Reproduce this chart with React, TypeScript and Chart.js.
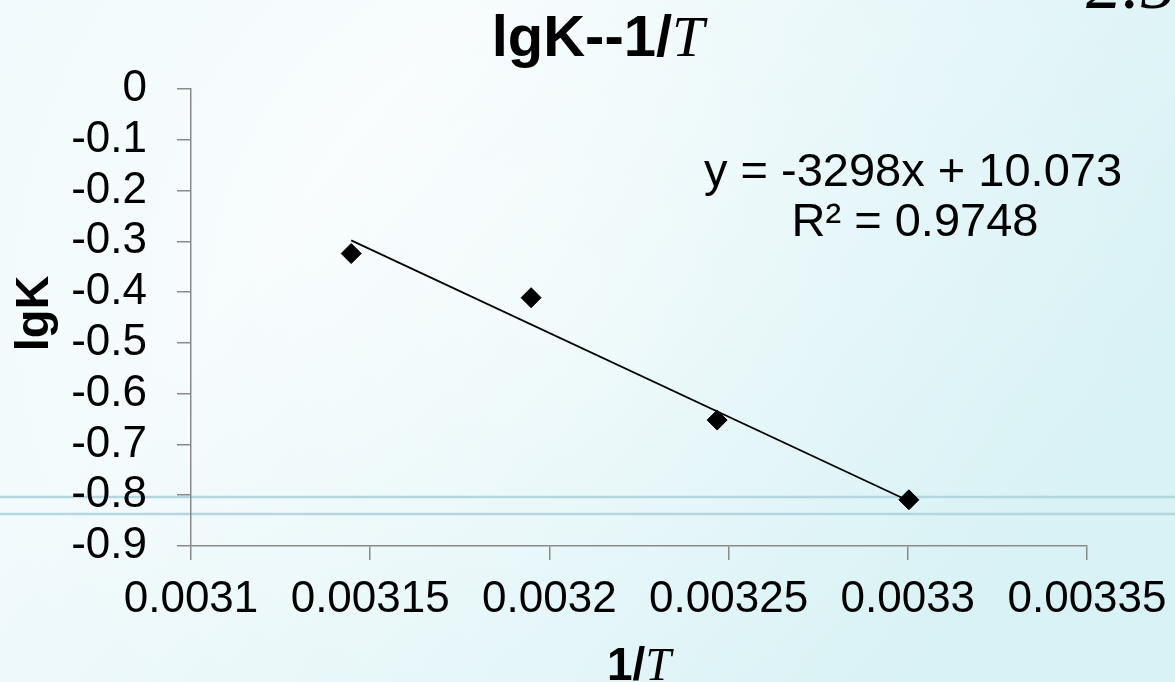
import React, { useEffect, useRef } from 'react';
import { Chart, registerables } from 'chart.js';

Chart.register(...registerables);

// ---- data ----
const invT = [0.0031447, 0.0031949, 0.0032468, 0.0033003];
const lgK = [-0.324, -0.411, -0.652, -0.809];
const trendX = [0.0031447, 0.0033003];
const trendY = [-0.2982, -0.8114];
const xTickValues = [0.0031, 0.00315, 0.0032, 0.00325, 0.0033, 0.00335];
const xTickLabels = ['0.0031', '0.00315', '0.0032', '0.00325', '0.0033', '0.00335'];
const yTickValues = [-0.9, -0.8, -0.7, -0.6, -0.5, -0.4, -0.3, -0.2, -0.1, 0];
const yTickLabels = ['-0.9', '-0.8', '-0.7', '-0.6', '-0.5', '-0.4', '-0.3', '-0.2', '-0.1', '0'];
const titleMain = 'lgK--1/';
const titleItalic = 'T';
const xTitleMain = '1/';
const xTitleItalic = 'T';
const yTitle = 'lgK';
const equationText = 'y = -3298x + 10.073';
const r2Text = 'R² = 0.9748';
const cornerText = '2.5';

const SANS = '"Liberation Sans", Arial, sans-serif';
const SERIF = '"Liberation Serif", "Times New Roman", serif';

const W = 1175;
const H = 682;

const backgroundPlugin = {
  id: 'slideBackground',
  beforeDraw(chart: any) {
    const ctx = chart.ctx as CanvasRenderingContext2D;
    ctx.save();
    ctx.fillStyle = '#f1fafc';
    ctx.fillRect(0, 0, W, H);
    const rg = ctx.createRadialGradient(560, 300, 40, 560, 300, 620);
    rg.addColorStop(0, 'rgba(255,255,255,0.85)');
    rg.addColorStop(1, 'rgba(255,255,255,0)');
    ctx.fillStyle = rg;
    ctx.fillRect(0, 0, W, H);
    const lg = ctx.createLinearGradient(300, 200, 900, 700);
    lg.addColorStop(0, 'rgba(205,238,242,0)');
    lg.addColorStop(1, 'rgba(205,238,242,0.7)');
    ctx.fillStyle = lg;
    ctx.fillRect(0, 0, W, H);
    // horizontal slide lines
    ctx.strokeStyle = '#b3d6df';
    ctx.lineWidth = 2.5;
    ctx.beginPath();
    ctx.moveTo(0, 497);
    ctx.lineTo(W, 497);
    ctx.moveTo(0, 514);
    ctx.lineTo(W, 514);
    ctx.stroke();
    ctx.restore();
  },
};

function drawMixed(ctx: CanvasRenderingContext2D, cx: number, y: number, a: string, fa: string, b: string, fb: string) {
  ctx.font = fa;
  const wa = ctx.measureText(a).width;
  ctx.font = fb;
  const wb = ctx.measureText(b).width;
  const x0 = cx - (wa + wb) / 2;
  ctx.textAlign = 'left';
  ctx.font = fa;
  ctx.fillText(a, x0, y);
  ctx.font = fb;
  ctx.fillText(b, x0 + wa, y);
}

const textPlugin = {
  id: 'chartTexts',
  afterDraw(chart: any) {
    const ctx = chart.ctx as CanvasRenderingContext2D;
    const area = chart.chartArea;
    ctx.save();
    ctx.fillStyle = '#000';
    ctx.textBaseline = 'alphabetic';
    // title
    drawMixed(ctx, 598, 56, titleMain, `bold 58px ${SANS}`, titleItalic, `italic 58px ${SERIF}`);
    // x axis title
    drawMixed(ctx, (area.left + area.right) / 2, 680, xTitleMain, `bold 46px ${SANS}`, xTitleItalic, `italic 46px ${SERIF}`);
    // y axis title
    ctx.save();
    ctx.translate(48, (area.top + area.bottom) / 2 - 4);
    ctx.rotate(-Math.PI / 2);
    ctx.textAlign = 'center';
    ctx.font = `bold 47px ${SANS}`;
    ctx.fillText(yTitle, 0, 0);
    ctx.restore();
    // trendline equation
    ctx.textAlign = 'center';
    ctx.font = `47px ${SANS}`;
    ctx.fillText(equationText, 913, 186);
    ctx.fillText(r2Text, 915, 236);
    // corner text from the slide
    ctx.textAlign = 'left';
    ctx.font = `italic 72px ${SERIF}`;
    ctx.fillText(cornerText, 1086, 8);
    ctx.restore();
  },
};

export default function App() {
  const ref = useRef<HTMLCanvasElement | null>(null);

  useEffect(() => {
    if (!ref.current) return;
    const tickFont = { family: SANS, size: 44 };
    const axisColor = '#8a8a8a';
    const chart = new Chart(ref.current, {
      type: 'scatter',
      data: {
        datasets: [
          {
            label: 'lgK',
            data: invT.map((x, i) => ({ x, y: lgK[i] })),
            pointStyle: 'rectRot',
            pointRadius: 10,
            pointBackgroundColor: '#000',
            pointBorderColor: '#000',
            pointBorderWidth: 1,
            showLine: false,
            order: 0,
          },
          {
            label: 'trend',
            data: trendX.map((x, i) => ({ x, y: trendY[i] })),
            showLine: true,
            borderColor: '#000',
            borderWidth: 1.8,
            pointRadius: 0,
            order: 1,
          },
        ],
      },
      options: {
        animation: false,
        responsive: false,
        devicePixelRatio: 1,
        layout: { padding: { top: 89, right: 88, left: 0, bottom: 0 } },
        plugins: {
          legend: { display: false },
          tooltip: { enabled: false },
          title: { display: false },
        },
        scales: {
          x: {
            type: 'linear',
            min: 0.0031,
            max: 0.00335,
            afterBuildTicks: (s: any) => {
              s.ticks = xTickValues.map((v) => ({ value: v }));
            },
            afterFit: (s: any) => {
              s.height = 136;
            },
            ticks: {
              callback: (v: any) => {
                const i = xTickValues.findIndex((t) => Math.abs(t - v) < 1e-9);
                return i >= 0 ? xTickLabels[i] : '';
              },
              font: { family: SANS, size: 44, lineHeight: 1.56 },
              color: '#000',
              padding: 6,
              maxRotation: 0,
              autoSkip: false,
            },
            grid: { drawOnChartArea: false, tickLength: 14, color: axisColor, lineWidth: 1.5 },
            border: { color: axisColor, width: 1.5 },
          },
          y: {
            type: 'linear',
            min: -0.9,
            max: 0,
            afterBuildTicks: (s: any) => {
              s.ticks = yTickValues.map((v) => ({ value: v }));
            },
            afterFit: (s: any) => {
              s.width = 191;
            },
            ticks: {
              callback: (v: any) => {
                const i = yTickValues.findIndex((t) => Math.abs(t - v) < 1e-9);
                return i >= 0 ? yTickLabels[i] : '';
              },
              font: tickFont,
              color: '#000',
              padding: 30,
              autoSkip: false,
            },
            grid: { drawOnChartArea: false, tickLength: 14, color: axisColor, lineWidth: 1.5 },
            border: { color: axisColor, width: 1.5 },
          },
        },
      } as any,
      plugins: [backgroundPlugin, textPlugin],
    });
    return () => chart.destroy();
  }, []);

  return (
    <div style={{ position: 'fixed', left: 0, top: 0, width: W, height: H }}>
      <canvas ref={ref} width={W} height={H} />
    </div>
  );
}
